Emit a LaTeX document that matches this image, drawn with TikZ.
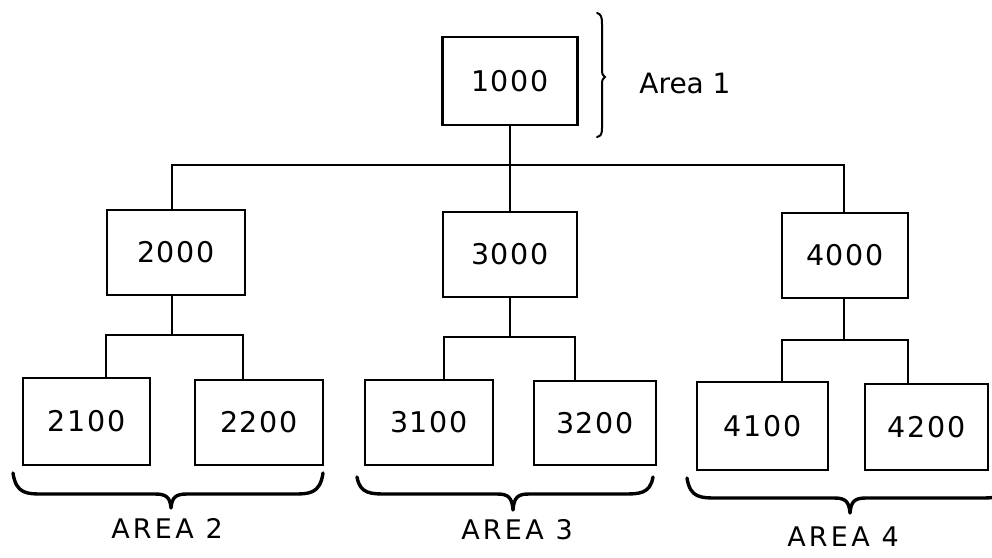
\documentclass[tikz,border=0pt]{standalone}
\usepackage{fontspec}
\setmainfont{DejaVu Sans}
\usetikzlibrary{calc}
\tikzset{
  box/.style={draw=black, line width=2.2pt, rectangle, inner sep=0pt,
    font=\fontsize{28.5}{30}\selectfont\addfontfeature{LetterSpace=6}},
  conn/.style={draw=black, line width=2.2pt},
  bracepath/.style={draw=black, line width=3.4pt, line cap=round, line join=round},
  arealabel/.style={font=\fontsize{27}{29}\selectfont\addfontfeature{LetterSpace=12}, inner sep=0pt},
}
\newcommand\areabrace[6]{% x1, x2, yend, yflat, tipx, ytip
  \draw[bracepath] (#1,#3) .. controls (#1+3,#4) and (#1+14,#4) .. (#1+30,#4)
    -- (#5-16,#4) .. controls (#5-5,#4) and (#5-1,#4+3) .. (#5,#6)
    .. controls (#5+1,#4+3) and (#5+5,#4) .. (#5+16,#4)
    -- (#2-30,#4) .. controls (#2-14,#4) and (#2-3,#4) .. (#2,#3);}
\begin{document}
\begin{tikzpicture}[x=1pt,y=-1pt]
\useasboundingbox (0,0) rectangle (992,557);
% boxes
\node[box, minimum width=135pt, minimum height=88pt] (n1000) at (510,81) {1000};
\node[box, minimum width=138pt, minimum height=85pt] (n2000) at (176,252.5) {2000};
\node[box, minimum width=134pt, minimum height=85pt] (n3000) at (510,254.5) {3000};
\node[box, minimum width=126pt, minimum height=85pt] (n4000) at (845,255.5) {4000};
\node[box, minimum width=127pt, minimum height=87pt] (n2100) at (86.5,421.5) {2100};
\node[box, minimum width=128pt, minimum height=85pt] (n2200) at (259,422.5) {2200};
\node[box, minimum width=128pt, minimum height=85pt] (n3100) at (429,422.5) {3100};
\node[box, minimum width=122pt, minimum height=84pt] (n3200) at (595,423) {3200};
\node[box, minimum width=131pt, minimum height=88pt] (n4100) at (762.5,426) {4100};
\node[box, minimum width=123pt, minimum height=86pt] (n4200) at (926.5,427) {4200};
% junction coordinates
\coordinate (bus) at (0,165);
\coordinate (j2) at (172,335);
\coordinate (j3) at (510,337);
\coordinate (j4) at (844,340);
% top level connectors
\draw[conn] (n1000.south) -- (n3000.north);
\draw[conn] ([xshift=-4pt]n2000.north) -- ([xshift=-4pt]n2000.north |- bus)
  -- ([xshift=-1pt]n4000.north |- bus) -- ([xshift=-1pt]n4000.north);
% second level connectors
\draw[conn] ([xshift=-4pt]n2000.south) -- (j2);
\draw[conn] ($(n2100.north)+(19.5,0)$) |- (j2) -| ($(n2200.north)+(-16,0)$);
\draw[conn] (n3000.south) -- (j3);
\draw[conn] ($(n3100.north)+(15,0)$) |- (j3) -| ($(n3200.north)+(-20,0)$);
\draw[conn] ([xshift=-1pt]n4000.south) -- (j4);
\draw[conn] ($(n4100.north)+(19.5,0)$) |- (j4) -| ($(n4200.north)+(-18.5,0)$);
% area 1 bracket
\draw[line width=2pt, line cap=round] (597,13) .. controls (601,14) and (602,17) .. (602,24)
  -- (602,71) .. controls (602,75) and (604,76) .. (605,77)
  .. controls (604,78) and (602,79) .. (602,83)
  -- (602,128) .. controls (602,134) and (601,136) .. (597,137);
\node[font=\fontsize{28}{30}\selectfont, inner sep=0pt] (a1) at (685,83) {Area 1};
% area braces
\areabrace{13}{323}{473}{494}{171}{508}
\areabrace{357}{653}{477}{494}{513}{510}
\areabrace{687}{1010}{478}{498}{850}{513}
\node[arealabel] (a2) at (167,528) {AREA 2};
\node[arealabel] (a3) at (517,530) {AREA 3};
\node[arealabel] (a4) at (843,537) {AREA 4};
\end{tikzpicture}
\end{document}
